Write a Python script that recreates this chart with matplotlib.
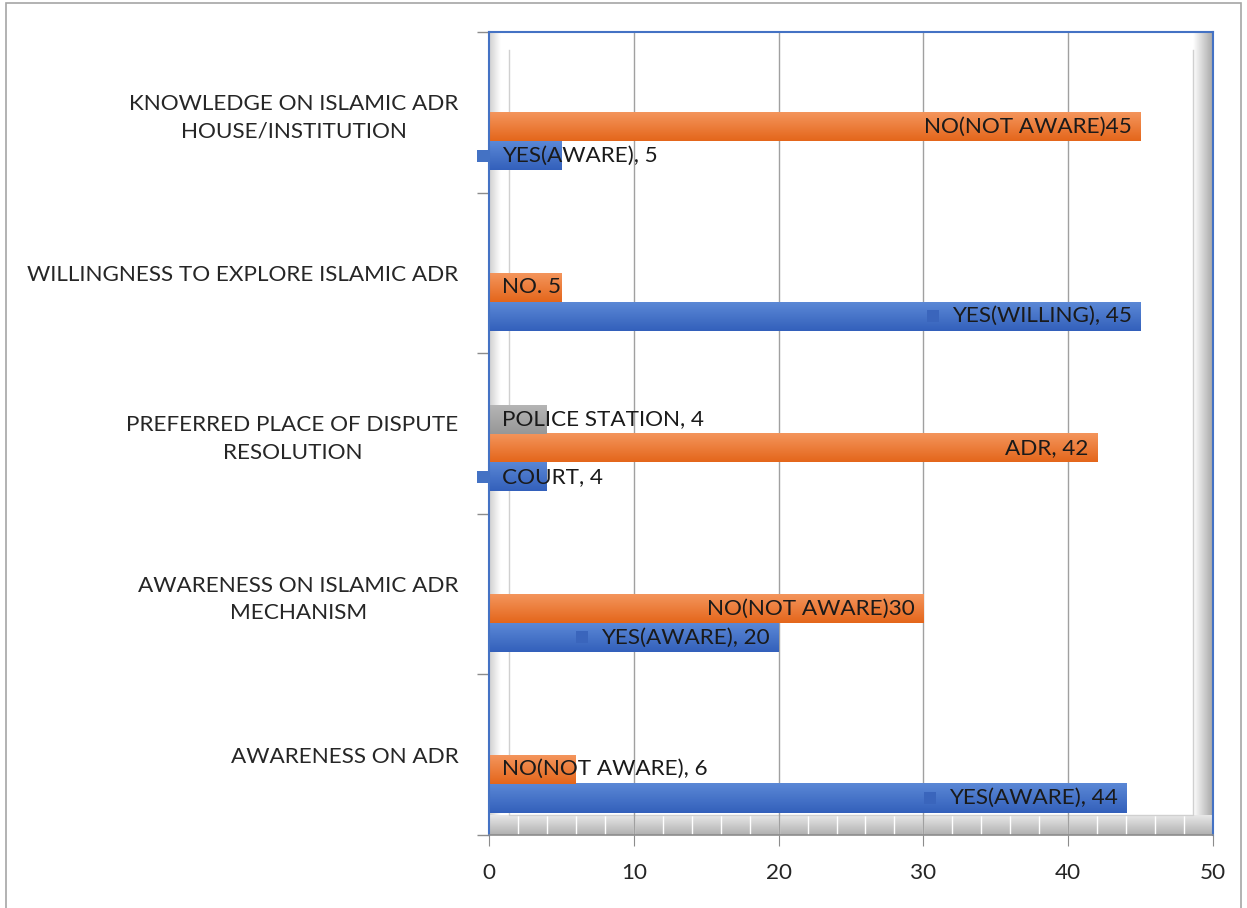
import numpy as np
import matplotlib
matplotlib.use("Agg")
import matplotlib.pyplot as plt
from matplotlib.colors import LinearSegmentedColormap
from matplotlib.patches import Rectangle

plt.rcParams['font.family'] = ['Lato', 'DejaVu Sans']

# data, bottom category first
categories = ['AWARENESS ON ADR',
              'AWARENESS ON ISLAMIC ADR\nMECHANISM',
              'PREFERRED PLACE OF DISPUTE\nRESOLUTION',
              'WILLINGNESS TO EXPLORE ISLAMIC ADR',
              'KNOWLEDGE ON ISLAMIC ADR\nHOUSE/INSTITUTION']
series1 = [44, 20, 4, 45, 5]
series2 = [6, 30, 42, 5, 45]
series3 = [0, 0, 4, 0, 0]
labels1 = ['YES(AWARE), 44', 'YES(AWARE), 20', 'COURT, 4', 'YES(WILLING), 45', 'YES(AWARE), 5']
labels2 = ['NO(NOT AWARE), 6', 'NO(NOT AWARE)30', 'ADR, 42', 'NO. 5', 'NO(NOT AWARE)45']
labels3 = [None, None, 'POLICE STATION, 4', None, None]
xticks = [0, 10, 20, 30, 40, 50]

FS = 16.2
W, H = 1247, 908
fig = plt.figure(figsize=(W / 100, H / 100), dpi=100)
ax = fig.add_axes([489 / W, 1 - 835 / H, (1213 - 489) / W, (835 - 32) / H])

ax.set_xlim(0, 50)
ax.set_ylim(-0.5, 4.5)

# outer frame of the chart area
fig.patches.append(Rectangle((6 / W, -0.02), (1241 - 6) / W, 1.02 - 3 / H,
                             transform=fig.transFigure, fill=False,
                             edgecolor='#a6a6a6', lw=1.2, zorder=0))

# 3d-ish walls: left, right and floor gradients
def grad(x0, x1, y0, y1, c0, c1, horizontal=True, z=0.5):
    cm = LinearSegmentedColormap.from_list('g', [c0, c1])
    img = np.linspace(0, 1, 64).reshape(1, -1) if horizontal else np.linspace(0, 1, 64).reshape(-1, 1)
    ax.imshow(img, cmap=cm, extent=[x0, x1, y0, y1], origin='lower',
              aspect='auto', zorder=z, interpolation='bilinear')

px_x = 50 / (1213 - 489)
px_y = 5 / (835 - 32)
floor_top = -0.5 + 20 * px_y
grad(0, 12 * px_x, floor_top, 4.5, '#cfcfcf', '#ffffff')
grad(50 - 20 * px_x, 50, floor_top, 4.5, '#ffffff', '#a8a8a8')
grad(0, 50, -0.5, floor_top, '#b0b0b0', '#e8e8e8', horizontal=False)
for xv in np.arange(2, 50, 2):
    ax.plot([xv, xv], [-0.5, floor_top], color='white', lw=1, zorder=0.6)
back_l, back_r = 20 * px_x, 50 - 20 * px_x
ax.plot([back_l, back_l, back_r, back_r], [4.5 - 18 * px_y, floor_top, floor_top, 4.5 - 18 * px_y],
        color='#d0d0d0', lw=1, zorder=0.7)

# major gridlines
for xv in xticks[1:-1]:
    ax.axvline(xv, color='#a0a0a0', lw=1, zorder=0.8)

# bars with a vertical gradient
bar_h = 29 * px_y
offsets = [-0.27, -0.09, 0.09]
styles = [('#3360bb', '#5b88d6'), ('#e4661b', '#f4955c'), ('#979797', '#b5b5b5')]
y = np.arange(len(categories))
all_series = [series1, series2, series3]
all_labels = [labels1, labels2, labels3]
for s, (vals, (cd, cl)) in enumerate(zip(all_series, styles)):
    bars = ax.barh(y + offsets[s], vals, height=bar_h, color='none', zorder=2)
    for b in bars:
        if b.get_width() == 0:
            continue
        x0, y0 = b.get_x(), b.get_y()
        grad(x0, x0 + b.get_width(), y0, y0 + b.get_height(), cd, cl, horizontal=False, z=2)

ax.set_xlim(0, 50)
ax.set_ylim(-0.5, 4.5)

# data labels
texts = []
for s, (vals, labs) in enumerate(zip(all_series, all_labels)):
    for i, (v, lab) in enumerate(zip(vals, labs)):
        if lab is None:
            continue
        yy = y[i] + offsets[s]
        if v >= 15:
            t = ax.text(v - 0.6, yy, lab, ha='right', va='center', fontsize=FS, color='#1a1a1a', zorder=4)
        else:
            t = ax.text(0.9, yy, lab, ha='left', va='center', fontsize=FS, color='#1a1a1a', zorder=4)
        texts.append((s, v, t))

# axes styling
for side in ['left', 'top', 'right']:
    ax.spines[side].set_color('#4472c4')
    ax.spines[side].set_linewidth(1.5)
ax.spines['bottom'].set_color('#8c8c8c')
ax.spines['bottom'].set_linewidth(1.2)

ax.set_xticks(xticks)
ax.tick_params(axis='x', length=8, color='#8c8c8c', labelsize=FS, pad=12, labelcolor='#262626')
ax.set_yticks(y)
ax.set_yticklabels(categories, fontsize=FS, color='#262626', multialignment='center', linespacing=1.45)
ax.tick_params(axis='y', which='major', length=0, pad=22)
ax.set_yticks(np.arange(-0.5, 5, 1), minor=True)
ax.tick_params(axis='y', which='minor', length=9, color='#8c8c8c', width=1)

# legend keys in front of the blue labels
fig.canvas.draw()
inv = ax.transData.inverted()
for s, v, t in texts:
    if s != 0:
        continue
    bb = t.get_window_extent()
    cy = (bb.y0 + bb.y1) / 2
    kx1 = bb.x0 - 13
    (dx0, dy0) = inv.transform((kx1 - 12, cy - 6))
    (dx1, dy1) = inv.transform((kx1, cy + 6))
    inside = dx0 > 0
    ax.add_patch(Rectangle((dx0, dy0), dx1 - dx0, dy1 - dy0, clip_on=False,
                           facecolor='#3a65bc' if inside else '#4472c4',
                           edgecolor='none', zorder=3))

fig.savefig('out.png', dpi=100)
